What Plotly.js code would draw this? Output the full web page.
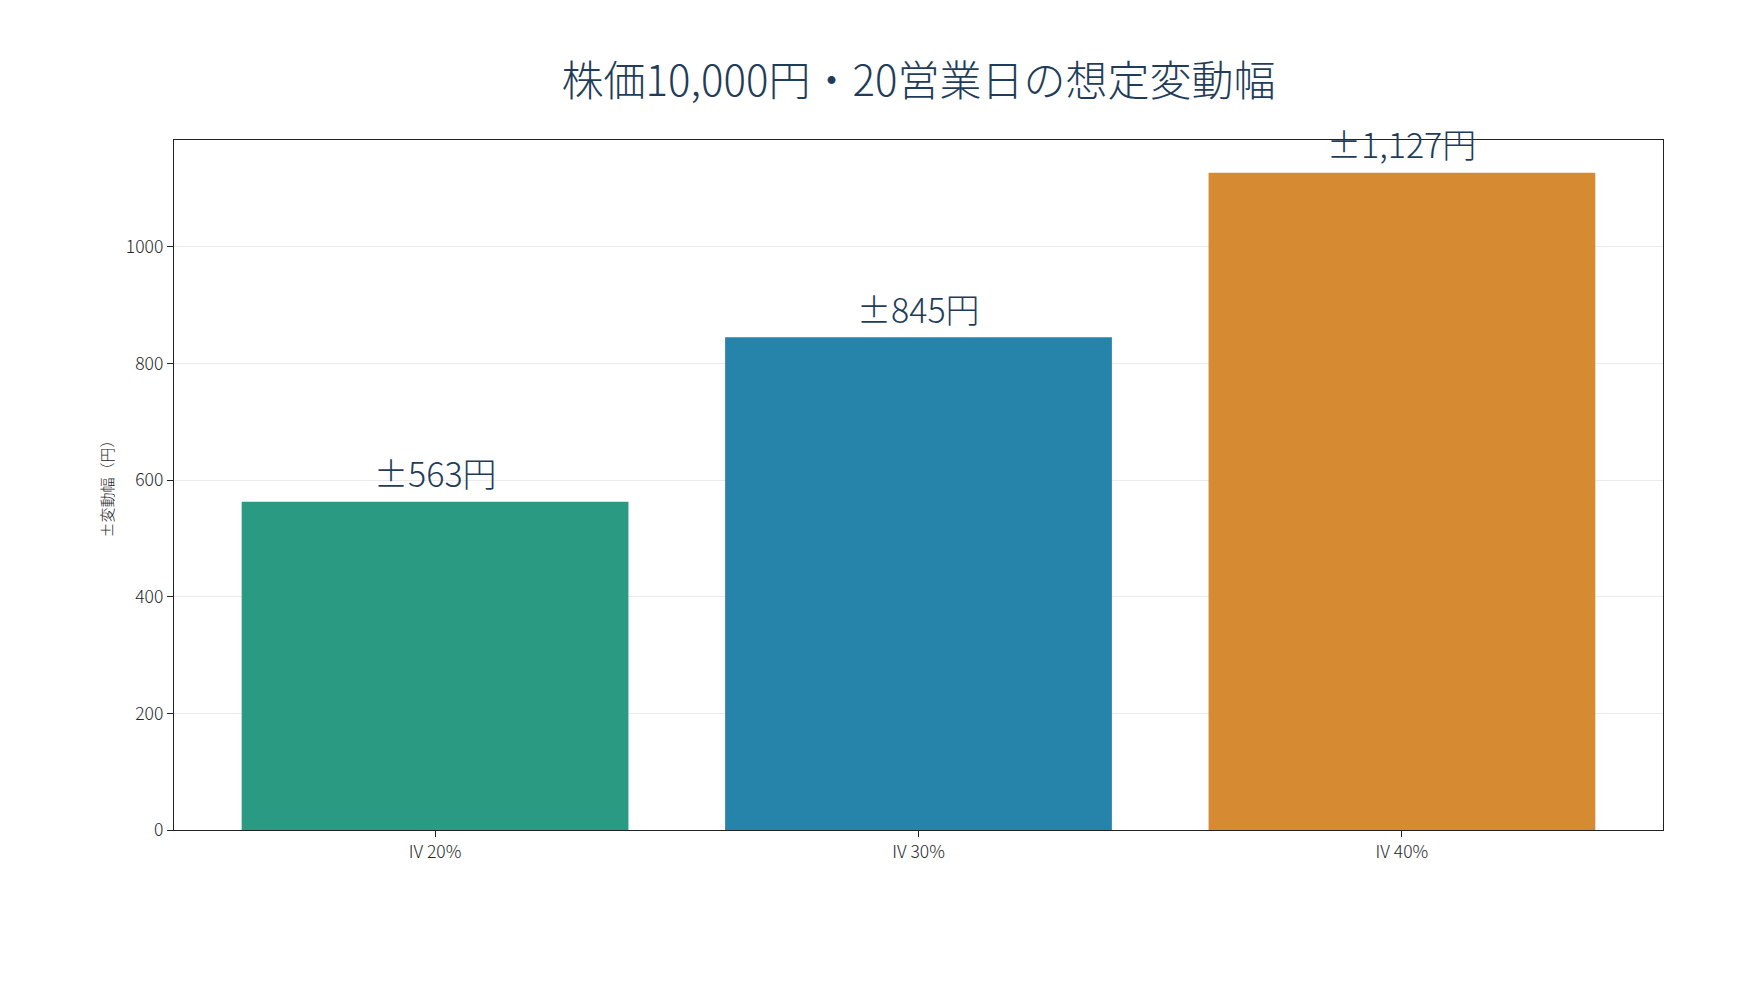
<!DOCTYPE html>
<html>
<head>
<meta charset="utf-8">
<script src="https://cdn.plot.ly/plotly-3.0.1.min.js"></script>
<style>html,body{margin:0;padding:0;background:#fff;}#chart{width:1750px;height:1000px;}</style>
</head>
<body>
<div id="chart"></div>
<script>
const categories = ["IV 20%", "IV 30%", "IV 40%"];
const values = [563, 845, 1127];
const labels = ["±563円", "±845円", "±1,127円"];
const colors = ["#2a9a83", "#2683aa", "#d68a32"];
const yTicks = [0, 200, 400, 600, 800, 1000];

const FONT = "Noto Sans CJK JP, Noto Sans, sans-serif";
const TITLE_COLOR = "#1f3d5a";

const trace = {
  type: "bar",
  x: categories,
  y: values,
  width: 0.8,
  marker: {color: colors, line: {width: 0}},
  hoverinfo: "x+y",
  showlegend: false
};

const annotations = categories.map((c, i) => ({
  x: c, y: values[i], xref: "x", yref: "y",
  text: labels[i], showarrow: false,
  yanchor: "middle", yshift: 29,
  font: {family: FONT, size: 34, color: TITLE_COLOR, weight: 300}
}));

const layout = {
  width: 1750, height: 1000,
  paper_bgcolor: "#ffffff", plot_bgcolor: "#ffffff",
  margin: {l: 174, r: 87, t: 140, b: 170, autoexpand: false},
  font: {family: FONT, color: "#262626"},
  title: {
    text: "株価10,000円・20営業日の想定変動幅",
    font: {family: FONT, size: 42, color: TITLE_COLOR, weight: 300},
    x: (174 + 1663) / 2 / 1750, xanchor: "center",
    y: 1 - 81 / 1000, yanchor: "middle", yref: "container"
  },
  xaxis: {
    type: "category",
    range: [-0.54, 2.54],
    showline: true, linecolor: "#222", linewidth: 1.2, mirror: true,
    ticks: "outside", ticklen: 6, tickcolor: "#222", tickwidth: 1,
    tickfont: {family: FONT, size: 17.5, color: "#262626", weight: 300},
    showgrid: false, zeroline: false, automargin: false
  },
  yaxis: {
    range: [0, 1183.35],
    tickvals: yTicks, ticktext: yTicks.map(String),
    showline: true, linecolor: "#222", linewidth: 1.2, mirror: true,
    ticks: "outside", ticklen: 6, tickcolor: "#222", tickwidth: 1,
    tickfont: {family: FONT, size: 17.5, color: "#262626", weight: 300},
    showgrid: true, gridcolor: "#ebebeb", gridwidth: 1,
    zeroline: false, automargin: false,
    title: {text: "±変動幅（円）", font: {family: FONT, size: 15, color: "#262626", weight: 300}, standoff: 8}
  },
  annotations: annotations,
  bargap: 0.2
};

Plotly.newPlot("chart", [trace], layout, {displayModeBar: false, staticPlot: true});
</script>
</body>
</html>
